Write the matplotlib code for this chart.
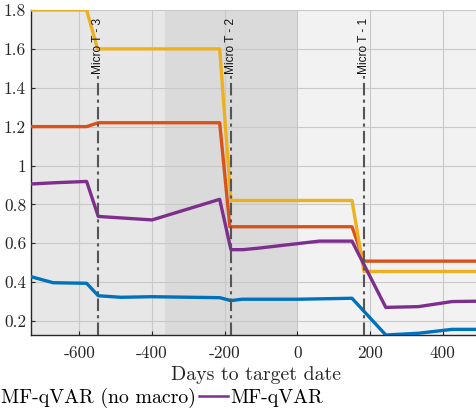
import matplotlib
matplotlib.use("Agg")
import matplotlib.pyplot as plt
from matplotlib.lines import Line2D

plt.rcParams['font.family'] = ['cmr10', 'DejaVu Serif']
plt.rcParams['axes.formatter.use_mathtext'] = True

# ---- data ----
yellow_x = [-733, -580, -550, -214, -183, 150, 183, 500]
yellow_y = [1.80, 1.80, 1.60, 1.60, 0.82, 0.82, 0.455, 0.455]

orange_x = [-733, -580, -548, -214, -186, 150, 183, 500]
orange_y = [1.20, 1.20, 1.22, 1.22, 0.685, 0.685, 0.508, 0.508]

purple_x = [-733, -660, -580, -548, -400, -214, -183, -150, -111, 0, 60, 150, 243, 333, 425, 500]
purple_y = [0.905, 0.912, 0.918, 0.738, 0.72, 0.826, 0.567, 0.567, 0.574, 0.598, 0.611, 0.611, 0.270, 0.274, 0.300, 0.302]

blue_x = [-733, -672, -580, -548, -486, -400, -214, -183, -153, 0, 150, 243, 333, 425, 500]
blue_y = [0.428, 0.397, 0.394, 0.330, 0.322, 0.325, 0.320, 0.305, 0.312, 0.312, 0.317, 0.128, 0.137, 0.157, 0.157]

event_x = [-548, -183, 183]
event_labels = ['Micro T - 3', 'Micro T - 2', 'Micro T - 1']

xticks = [-600, -400, -200, 0, 200, 400]
xtick_labels = ['-600', '-400', '-200', '0', '200', '400']
yticks = [0.2, 0.4, 0.6, 0.8, 1.0, 1.2, 1.4, 1.6, 1.8]
ytick_labels = ['0.2', '0.4', '0.6', '0.8', '1', '1.2', '1.4', '1.6', '1.8']

legend_labels = ['MF-qVAR (no macro)', 'MF-qVAR']

c_blue = '#0072BD'
c_orange = '#D95319'
c_yellow = '#EDB120'
c_purple = '#7E2F8E'

fig = plt.figure(figsize=(4.77, 4.08), dpi=100)
ax = fig.add_axes([31/477, (408-335)/408, (477-31)/477 + 0.01, (335-10)/408])

xmin, xmax = -733, 507
ymin, ymax = 0.128, 1.80
ax.set_xlim(xmin, xmax)
ax.set_ylim(ymin, ymax)

# background regions
ax.axvspan(xmin, -365, color='#e7e7e7', zorder=0, lw=0)
ax.axvspan(-365, 0, color='#dadada', zorder=0, lw=0)
ax.axvspan(0, xmax, color='#f2f2f2', zorder=0, lw=0)

ax.set_axisbelow(True)
ax.grid(True, color='#c8c8c8', lw=0.8, zorder=0.5)

lw = 2.4
ax.plot(blue_x, blue_y, color=c_blue, lw=lw, zorder=3)
ax.plot(orange_x, orange_y, color=c_orange, lw=lw, zorder=3)
ax.plot(yellow_x, yellow_y, color=c_yellow, lw=lw, zorder=3)
ax.plot(purple_x, purple_y, color=c_purple, lw=lw, zorder=3)

for xv, lab in zip(event_x, event_labels):
    ax.plot([xv, xv], [ymin, 1.462], color='#555555', lw=1.5,
            linestyle=(0, (6, 2, 1.5, 2)), zorder=4)
    ax.text(xv, 1.758, lab, rotation=90, ha='center', va='top',
            fontsize=8.6, family=['Liberation Sans'], color='#111111', zorder=5)

ax.set_xticks(xticks)
ax.set_xticklabels(xtick_labels)
ax.set_yticks(yticks)
ax.set_yticklabels(ytick_labels)
ax.tick_params(direction='in', length=3, labelsize=12.5, colors='#262626')
ax.tick_params(axis='x', pad=8)

for s in ['top', 'right']:
    ax.spines[s].set_visible(False)
for s in ['left', 'bottom']:
    ax.spines[s].set_color('#262626')
    ax.spines[s].set_linewidth(1.0)

ax.set_xlabel('Days to target date', fontsize=14.3, color='#262626', labelpad=3)

handles = [Line2D([0], [0], color=c_yellow, lw=1.8),
           Line2D([0], [0], color=c_purple, lw=1.8)]
fig.legend(handles, legend_labels, loc='center left', ncol=2,
           bbox_to_anchor=(-31/477, 10/408), frameon=False, fontsize=14.3,
           handlelength=1.5, handletextpad=0.1, columnspacing=0.15,
           borderaxespad=0, borderpad=0)

fig.savefig('out.png', dpi=100)
